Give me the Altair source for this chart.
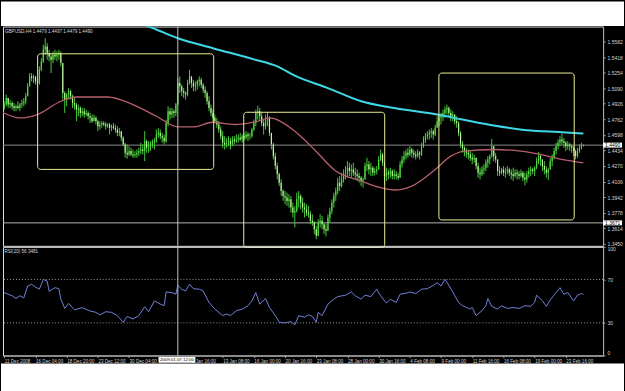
import altair as alt
import pandas as pd

# ---------------- data ----------------
close = [
    1.4917, 1.4987, 1.4917, 1.4934, 1.4899, 1.4882, 1.4899, 1.4882, 1.4917, 1.4934,
    1.4952, 1.5004, 1.5109, 1.5214, 1.5197, 1.5214, 1.5162, 1.5144, 1.5284, 1.5372,
    1.5494, 1.5529, 1.5459, 1.5424, 1.5389, 1.5442, 1.5424, 1.5442, 1.5459, 1.5354,
    1.5039, 1.4969, 1.5022, 1.5057, 1.5004, 1.4934, 1.4917, 1.4864, 1.4882, 1.4829,
    1.4847, 1.4812, 1.4829, 1.4794, 1.4777, 1.4742, 1.4777, 1.4742, 1.4689, 1.4707,
    1.4724, 1.4707, 1.4689, 1.4707, 1.4672, 1.4689, 1.4672, 1.4654, 1.4619, 1.4637,
    1.4567, 1.4497, 1.4409, 1.4392, 1.4427, 1.4392, 1.4381, 1.4392, 1.4409, 1.4427,
    1.4444, 1.4427, 1.4532, 1.4462, 1.4479, 1.4497, 1.4514, 1.4532, 1.4602, 1.4619,
    1.4584, 1.4567, 1.4532, 1.4724, 1.4847, 1.4812, 1.4847, 1.4829, 1.4917, 1.5144,
    1.5109, 1.5057, 1.5039, 1.5022, 1.5144, 1.5214, 1.5144, 1.5109, 1.5127, 1.5162,
    1.5179, 1.5127, 1.5074, 1.5039, 1.4952, 1.4882, 1.4829, 1.4777, 1.4742, 1.4707,
    1.4654, 1.4584, 1.4514, 1.4497, 1.4514, 1.4532, 1.4497, 1.4549, 1.4532, 1.4549,
    1.4567, 1.4549, 1.4584, 1.4567, 1.4602, 1.4584, 1.4584, 1.4654, 1.4724, 1.4829,
    1.4847, 1.4794, 1.4724, 1.4689, 1.4759, 1.4777, 1.4619, 1.4497, 1.4374, 1.4269,
    1.4182, 1.4094, 1.4007, 1.3954, 1.3937, 1.3902, 1.3919, 1.3832, 1.3779, 1.3797,
    1.3919, 1.3954, 1.3884, 1.3832, 1.3814, 1.3779, 1.3762, 1.3692, 1.3674, 1.3604,
    1.3534, 1.3674, 1.3692, 1.3657, 1.3604, 1.3587, 1.3727, 1.3797, 1.3884, 1.3954,
    1.4007, 1.4094, 1.4059, 1.4129, 1.4182, 1.4199, 1.4252, 1.4217, 1.4234, 1.4199,
    1.4182, 1.4164, 1.4147, 1.4112, 1.4129, 1.4269, 1.4287, 1.4234, 1.4252, 1.4199,
    1.4217, 1.4234, 1.4339, 1.4392, 1.4304, 1.4164, 1.4199, 1.4182, 1.4217, 1.4164,
    1.4182, 1.4164, 1.4147, 1.4287, 1.4339, 1.4374, 1.4409, 1.4392, 1.4444, 1.4409,
    1.4392, 1.4374, 1.4409, 1.4392, 1.4479, 1.4549, 1.4584, 1.4602, 1.4619, 1.4637,
    1.4602, 1.4672, 1.4742, 1.4777, 1.4794, 1.4829, 1.4864, 1.4882, 1.4829, 1.4794,
    1.4812, 1.4742, 1.4724, 1.4619, 1.4497, 1.4462, 1.4427, 1.4409, 1.4392, 1.4357,
    1.4339, 1.4357, 1.4269, 1.4199, 1.4182, 1.4234, 1.4252, 1.4304, 1.4339, 1.4374,
    1.4479, 1.4374, 1.4339, 1.4217, 1.4199, 1.4234, 1.4199, 1.4217, 1.4234, 1.4199,
    1.4182, 1.4164, 1.4199, 1.4182, 1.4164, 1.4199, 1.4147, 1.4129, 1.4182, 1.4217,
    1.4234, 1.4217, 1.4252, 1.4322, 1.4374, 1.4339, 1.4269, 1.4234, 1.4199, 1.4234,
    1.4322, 1.4357, 1.4427, 1.4479, 1.4514, 1.4549, 1.4532, 1.4514, 1.4479, 1.4497,
    1.4479, 1.4462, 1.4427, 1.4374, 1.4427, 1.4462, 1.4479, 1.4490,
]
high = [
    1.4952, 1.5022, 1.4987, 1.4969, 1.4952, 1.4934, 1.4917, 1.4952, 1.4934, 1.4969,
    1.4987, 1.5039, 1.5144, 1.5249, 1.5249, 1.5232, 1.5214, 1.5197, 1.5319, 1.5407,
    1.5547, 1.5617, 1.5564, 1.5494, 1.5459, 1.5477, 1.5494, 1.5477, 1.5494, 1.5477,
    1.5354, 1.5057, 1.5039, 1.5092, 1.5074, 1.5022, 1.4987, 1.4934, 1.4917, 1.4899,
    1.4882, 1.4882, 1.4864, 1.4847, 1.4829, 1.4812, 1.4812, 1.4794, 1.4759, 1.4742,
    1.4742, 1.4742, 1.4731, 1.4724, 1.4724, 1.4707, 1.4724, 1.4707, 1.4689, 1.4672,
    1.4637, 1.4584, 1.4514, 1.4497, 1.4479, 1.4462, 1.4444, 1.4427, 1.4444, 1.4462,
    1.4514, 1.4497, 1.4637, 1.4549, 1.4532, 1.4532, 1.4549, 1.4567, 1.4654, 1.4672,
    1.4654, 1.4619, 1.4602, 1.4759, 1.4899, 1.4882, 1.4882, 1.4864, 1.4934, 1.5197,
    1.5214, 1.5127, 1.5092, 1.5057, 1.5179, 1.5284, 1.5214, 1.5179, 1.5162, 1.5179,
    1.5214, 1.5197, 1.5144, 1.5109, 1.5057, 1.5004, 1.4917, 1.4864, 1.4812, 1.4777,
    1.4742, 1.4689, 1.4637, 1.4584, 1.4567, 1.4584, 1.4567, 1.4584, 1.4584, 1.4602,
    1.4602, 1.4619, 1.4602, 1.4619, 1.4637, 1.4626, 1.4619, 1.4672, 1.4759, 1.4864,
    1.4906, 1.4882, 1.4829, 1.4759, 1.4812, 1.4836, 1.4794, 1.4619, 1.4514, 1.4409,
    1.4304, 1.4199, 1.4129, 1.4024, 1.4007, 1.3989, 1.3972, 1.3954, 1.3884, 1.3849,
    1.3989, 1.4007, 1.3972, 1.3937, 1.3884, 1.3867, 1.3849, 1.3797, 1.3762, 1.3692,
    1.3639, 1.3709, 1.3762, 1.3744, 1.3674, 1.3657, 1.3762, 1.3832, 1.3919, 1.3989,
    1.4042, 1.4147, 1.4164, 1.4199, 1.4234, 1.4269, 1.4322, 1.4304, 1.4287, 1.4304,
    1.4252, 1.4234, 1.4199, 1.4164, 1.4147, 1.4304, 1.4357, 1.4322, 1.4304, 1.4269,
    1.4252, 1.4269, 1.4374, 1.4444, 1.4409, 1.4322, 1.4252, 1.4234, 1.4252, 1.4234,
    1.4234, 1.4217, 1.4199, 1.4322, 1.4374, 1.4427, 1.4444, 1.4462, 1.4479, 1.4462,
    1.4444, 1.4427, 1.4444, 1.4427, 1.4514, 1.4584, 1.4619, 1.4637, 1.4654, 1.4672,
    1.4654, 1.4707, 1.4794, 1.4812, 1.4829, 1.4864, 1.4899, 1.4917, 1.4899, 1.4864,
    1.4847, 1.4812, 1.4794, 1.4742, 1.4637, 1.4532, 1.4479, 1.4462, 1.4444, 1.4427,
    1.4409, 1.4392, 1.4357, 1.4304, 1.4252, 1.4269, 1.4287, 1.4339, 1.4374, 1.4392,
    1.4556, 1.4444, 1.4409, 1.4252, 1.4269, 1.4252, 1.4269, 1.4252, 1.4269, 1.4252,
    1.4234, 1.4252, 1.4234, 1.4234, 1.4217, 1.4234, 1.4217, 1.4199, 1.4217, 1.4252,
    1.4269, 1.4252, 1.4269, 1.4357, 1.4416, 1.4392, 1.4339, 1.4322, 1.4269, 1.4252,
    1.4357, 1.4392, 1.4462, 1.4514, 1.4549, 1.4584, 1.4612, 1.4567, 1.4532, 1.4532,
    1.4514, 1.4497, 1.4479, 1.4444, 1.4462, 1.4497, 1.4514, 1.4497,
]
low = [
    1.4864, 1.4899, 1.4882, 1.4882, 1.4864, 1.4847, 1.4847, 1.4864, 1.4847, 1.4882,
    1.4899, 1.4917, 1.5004, 1.5109, 1.5162, 1.5144, 1.5127, 1.5092, 1.5127, 1.5267,
    1.5354, 1.5442, 1.5389, 1.5372, 1.5249, 1.5354, 1.5389, 1.5372, 1.5389, 1.5319,
    1.4969, 1.4829, 1.4899, 1.4987, 1.4969, 1.4882, 1.4864, 1.4742, 1.4794, 1.4777,
    1.4794, 1.4777, 1.4794, 1.4759, 1.4724, 1.4724, 1.4742, 1.4707, 1.4637, 1.4654,
    1.4672, 1.4689, 1.4654, 1.4672, 1.4602, 1.4637, 1.4654, 1.4619, 1.4584, 1.4584,
    1.4532, 1.4479, 1.4357, 1.4346, 1.4374, 1.4374, 1.4357, 1.4357, 1.4357, 1.4374,
    1.4392, 1.4392, 1.4322, 1.4409, 1.4409, 1.4427, 1.4462, 1.4444, 1.4514, 1.4567,
    1.4549, 1.4514, 1.4497, 1.4514, 1.4689, 1.4759, 1.4777, 1.4777, 1.4794, 1.4934,
    1.5039, 1.5004, 1.4987, 1.4969, 1.5004, 1.5127, 1.5092, 1.5057, 1.5057, 1.5074,
    1.5109, 1.5092, 1.5039, 1.4987, 1.4917, 1.4847, 1.4794, 1.4742, 1.4724, 1.4672,
    1.4619, 1.4549, 1.4462, 1.4444, 1.4462, 1.4479, 1.4444, 1.4479, 1.4497, 1.4514,
    1.4514, 1.4532, 1.4514, 1.4532, 1.4549, 1.4532, 1.4549, 1.4567, 1.4637, 1.4689,
    1.4759, 1.4742, 1.4689, 1.4602, 1.4654, 1.4689, 1.4584, 1.4444, 1.4339, 1.4234,
    1.4129, 1.4059, 1.3954, 1.3902, 1.3867, 1.3849, 1.3832, 1.3779, 1.3727, 1.3622,
    1.3779, 1.3832, 1.3814, 1.3779, 1.3727, 1.3744, 1.3727, 1.3657, 1.3639, 1.3552,
    1.3499, 1.3534, 1.3622, 1.3604, 1.3552, 1.3527, 1.3587, 1.3674, 1.3762, 1.3832,
    1.3902, 1.3972, 1.4007, 1.4042, 1.4094, 1.4129, 1.4147, 1.4164, 1.4147, 1.4164,
    1.4129, 1.4112, 1.4094, 1.4059, 1.4042, 1.4129, 1.4217, 1.4182, 1.4164, 1.4164,
    1.4171, 1.4182, 1.4234, 1.4322, 1.4269, 1.4077, 1.4112, 1.4129, 1.4147, 1.4129,
    1.4129, 1.4129, 1.4122, 1.4147, 1.4252, 1.4304, 1.4339, 1.4357, 1.4374, 1.4357,
    1.4357, 1.4339, 1.4357, 1.4339, 1.4374, 1.4462, 1.4514, 1.4549, 1.4549, 1.4567,
    1.4549, 1.4584, 1.4672, 1.4689, 1.4707, 1.4742, 1.4777, 1.4812, 1.4794, 1.4742,
    1.4742, 1.4707, 1.4672, 1.4584, 1.4462, 1.4409, 1.4374, 1.4357, 1.4339, 1.4322,
    1.4287, 1.4304, 1.4234, 1.4147, 1.4129, 1.4164, 1.4182, 1.4217, 1.4252, 1.4287,
    1.4357, 1.4322, 1.4304, 1.4164, 1.4164, 1.4182, 1.4164, 1.4147, 1.4182, 1.4164,
    1.4129, 1.4112, 1.4147, 1.4129, 1.4129, 1.4147, 1.4112, 1.4066, 1.4094, 1.4147,
    1.4164, 1.4182, 1.4164, 1.4234, 1.4287, 1.4269, 1.4217, 1.4182, 1.4147, 1.4122,
    1.4234, 1.4269, 1.4339, 1.4392, 1.4444, 1.4479, 1.4497, 1.4462, 1.4427, 1.4444,
    1.4427, 1.4409, 1.4374, 1.4339, 1.4357, 1.4409, 1.4444, 1.4479,
]
first_open = 1.4882

# moving averages (bar index, value)
ma_slow_bar = [-1, 8, 17, 29, 37, 53, 66, 78, 89, 97, 107, 118, 130, 136, 147,
               152, 159, 170, 183, 193, 200, 209, 221, 229, 236, 251, 265, 275, 286, 297]
ma_slow_val = [1.4836, 1.4776, 1.4812, 1.4952, 1.4997, 1.4997, 1.4917, 1.4794, 1.4682, 1.4682,
               1.4731, 1.4707, 1.4742, 1.4776, 1.4668, 1.4584, 1.4444, 1.4217, 1.4112, 1.4041,
               1.4017, 1.4059, 1.4234, 1.4374, 1.4427, 1.4444, 1.4427, 1.4392, 1.4339, 1.4304]
ma_long_bar = [64, 74, 89, 107, 128, 140, 149, 166, 183, 200, 222, 235, 251, 268, 286, 297]
ma_long_val = [1.5802, 1.5739, 1.5616, 1.5511, 1.5393, 1.5319, 1.5221, 1.5091, 1.4952, 1.4881,
               1.4812, 1.4759, 1.4696, 1.4647, 1.4626, 1.4612]

# RSI points (bar index, value)
rsi_points = [
    (0, 57.9), (2, 56.4), (4, 55.0), (6, 52.4), (8, 55.0), (10, 53.0), (12, 64.0), (14, 65.5),
    (16, 63.0), (18, 61.0), (20, 70.0), (22, 68.5), (23, 59.0), (26, 62.4), (28, 61.5), (29, 52.0),
    (31, 43.3), (33, 48.0), (36, 42.0), (40, 44.0), (44, 41.0), (47, 39.7), (49, 37.3), (52, 40.3),
    (55, 39.7), (58, 36.7), (61, 30.6), (63, 36.0), (66, 33.6), (69, 36.7), (72, 44.8), (74, 40.3),
    (77, 50.3), (80, 47.3), (82, 45.8), (83, 58.5), (86, 57.9), (88, 56.4), (89, 64.5), (91, 61.0),
    (93, 59.4), (95, 65.5), (97, 61.5), (100, 61.0), (102, 59.4), (105, 48.8), (108, 42.7),
    (112, 36.7), (114, 38.2), (116, 36.7), (119, 41.2), (122, 42.7), (125, 45.8), (127, 50.3),
    (129, 57.9), (131, 47.3), (134, 52.4), (136, 44.2), (139, 36.7), (141, 30.6), (144, 30.0),
    (147, 31.2), (149, 28.2), (151, 36.7), (154, 35.2), (156, 37.3), (158, 36.0), (160, 30.6),
    (161, 39.7), (163, 36.7), (166, 47.3), (169, 51.8), (171, 54.2), (175, 55.5), (178, 58.5),
    (180, 55.0), (183, 51.8), (185, 55.5), (188, 54.2), (191, 61.0), (193, 55.0), (196, 48.2),
    (198, 51.8), (201, 48.8), (203, 56.4), (206, 57.3), (208, 58.5), (211, 57.0), (214, 61.0),
    (217, 61.5), (220, 64.5), (222, 67.0), (224, 64.0), (226, 70.0), (227, 67.6), (230, 58.5),
    (233, 48.8), (235, 45.8), (237, 44.2), (239, 42.7), (240, 44.2), (242, 36.7), (245, 41.2),
    (247, 45.8), (248, 52.4), (250, 45.2), (253, 42.7), (255, 45.8), (258, 43.3), (261, 44.2),
    (264, 43.3), (267, 45.8), (270, 45.2), (272, 48.8), (273, 55.5), (276, 50.3), (278, 45.2),
    (280, 51.2), (283, 57.9), (285, 62.4), (287, 56.4), (289, 57.9), (292, 50.3), (294, 55.5),
    (296, 57.0), (297, 56.3),
]

# drawn rectangles (bar index from/to, price top/bottom)
box_x0 = [17.1, 122.8, 222.9]
box_x1 = [107.4, 195.1, 292.3]
box_top = [1.5452, 1.4836, 1.5249]
box_bottom = [1.4234, 1.3413, 1.3702]

# horizontal lines
line_price = [1.4490, 1.3671]
line_label = ["1.4490", "1.3671"]

price_ticks = [1.3450, 1.3614, 1.3778, 1.3942, 1.4106, 1.4270, 1.4434,
               1.4598, 1.4762, 1.4926, 1.5090, 1.5254, 1.5418, 1.5582]
rsi_ticks = [0, 30, 70, 100]
rsi_levels = [30, 70]
# the label at bar 80 lies under the cursor's time box in the reference
time_labels = ["11 Dec 2008", "16 Dec 04:00", "18 Dec 20:00", "23 Dec 12:00", "30 Dec 04:00",
               "", "8 Jan 16:00", "13 Jan 08:00", "16 Jan 00:00", "20 Jan 16:00",
               "23 Jan 08:00", "28 Jan 00:00", "30 Jan 16:00", "4 Feb 08:00", "9 Feb 00:00",
               "11 Feb 16:00", "16 Feb 08:00", "19 Feb 00:00", "23 Feb 16:00"]
cursor_bar = 89
cursor_box = (79.1, 98.0)
cursor_label = "2009.01.07 12:00"
title_text = "GBPUSD,H4 1.4479 1.4497 1.4479 1.4490"
rsi_text = "RSI(20) 56.3481"

# ---------------- tables ----------------
N = len(close)
opn = [first_open] + close[:-1]
hi = [max(h, o, c) for h, o, c in zip(high, opn, close)]
lo = [min(l, o, c) for l, o, c in zip(low, opn, close)]
candles = pd.DataFrame({"bar": list(range(N)), "open": opn, "high": hi, "low": lo, "close": close})
bull = candles[candles["close"] >= candles["open"]]
bear = candles[candles["close"] < candles["open"]]
ma_slow = pd.DataFrame({"bar": ma_slow_bar, "v": ma_slow_val})
ma_long = pd.DataFrame({"bar": ma_long_bar, "v": ma_long_val})
rsi = pd.DataFrame(rsi_points, columns=["bar", "rsi"])
boxes = pd.DataFrame({"x0": box_x0, "x1": box_x1, "top": box_top, "bottom": box_bottom})
hl = pd.DataFrame({"price": line_price, "label": line_label})
hl["t"] = hl["price"] + 0.0026
hl["b"] = hl["price"] - 0.0026
cursor = pd.DataFrame({"bar": [cursor_bar]})
cbox = pd.DataFrame({"x0": [cursor_box[0]], "x1": [cursor_box[1]],
                     "xm": [(cursor_box[0] + cursor_box[1]) / 2], "t": [cursor_label]})
one = pd.DataFrame({"k": [0]})
lev = pd.DataFrame({"v": rsi_levels})

# ---------------- scales / axes ----------------
W, H1, H2 = 602, 220, 109
FONT = "Liberation Sans"
LBL = "#d2d2d2"
AX = "#a8a8a8"
xs = alt.Scale(domain=[-0.665, 307.1], nice=False, zero=False)
ys = alt.Scale(domain=[1.3429, 1.5739], nice=False, zero=False)
rs = alt.Scale(domain=[0, 100], nice=False, zero=False)

price_axis = alt.Axis(orient="right", values=price_ticks, format=".4f", tickSize=2,
                      labelPadding=2, labelFontSize=5, labelFont=FONT, labelColor=LBL,
                      domainColor=AX, tickColor=AX, grid=False, title=None,
                      labelOverlap=False, labelFlush=False)
rsi_axis = alt.Axis(orient="right", values=rsi_ticks, tickSize=2, labelPadding=2,
                    labelFontSize=5, labelFont=FONT, labelColor=LBL, domainColor=AX,
                    tickColor=AX, grid=False, title=None, labelFlush=True, labelOverlap=False)
expr = "[" + ",".join("'%s'" % s for s in time_labels) + "][round(datum.value / 16)]"
time_axis = alt.Axis(values=[16 * k for k in range(len(time_labels))], labelExpr=expr,
                     labelAlign="left", labelBaseline="top", labelPadding=1, tickSize=2,
                     labelFontSize=4.6, labelFont=FONT, labelColor=LBL, domainColor=AX,
                     tickColor=AX, grid=False, title=None, labelOverlap=False,
                     labelFlush=False, labelBound=False)


def MX(f):
    return alt.X(f, type="quantitative", scale=xs, axis=None)


def MY(f):
    return alt.Y(f, type="quantitative", scale=ys, axis=price_axis)


def RX(f):
    return alt.X(f, type="quantitative", scale=xs, axis=time_axis)


def RY(f):
    return alt.Y(f, type="quantitative", scale=rs, axis=rsi_axis)


# ---------------- main panel ----------------
top_strip = alt.Chart(one).mark_rect(color="white").encode(
    x=alt.value(-2), x2=alt.value(623), y=alt.value(-25), y2=alt.value(-0.5))
hlines = alt.Chart(hl).mark_rule(strokeWidth=1).encode(
    y=MY("price"),
    color=alt.Color("label:N", scale=alt.Scale(domain=line_label, range=["#8a8a8a", "#b4b4b4"]),
                    legend=None))
wick = alt.Chart(candles).mark_rule(color="#45c639", strokeWidth=1).encode(
    x=MX("bar"), y=MY("low"), y2=alt.Y2("high"))
bull_body = alt.Chart(bull).mark_rule(color="#4fdc3c", strokeWidth=1.2).encode(
    x=MX("bar"), y=MY("open"), y2=alt.Y2("close"))
bear_body = alt.Chart(bear).mark_rule(color="#c4f0a0", strokeWidth=1.2).encode(
    x=MX("bar"), y=MY("open"), y2=alt.Y2("close"))
slow_line = alt.Chart(ma_slow).mark_line(color="#b65f6c", strokeWidth=1.3, clip=True,
                                         interpolate="monotone").encode(x=MX("bar"), y=MY("v"))
long_line = alt.Chart(ma_long).mark_line(color="#3fd8e6", strokeWidth=2, clip=True,
                                         interpolate="monotone").encode(x=MX("bar"), y=MY("v"))
rects = alt.Chart(boxes).mark_rect(fillOpacity=0, stroke="#ecec96", strokeWidth=1,
                                   cornerRadius=3).encode(
    x=MX("x0"), x2=alt.X2("x1"), y=MY("top"), y2=alt.Y2("bottom"))
cross1 = alt.Chart(cursor).mark_rule(color="#c4c4c4", strokeWidth=1).encode(x=MX("bar"))
pbox = alt.Chart(hl).mark_rect(color="white").encode(
    x=alt.value(602), x2=alt.value(621), y=MY("t"), y2=alt.Y2("b"))
ptext = alt.Chart(hl).mark_text(align="left", baseline="middle", fontSize=5, font=FONT,
                                color="black").encode(
    x=alt.value(604), y=MY("price"), text="label:N")
title = alt.Chart(one).mark_text(align="left", baseline="top", fontSize=4.6, font=FONT,
                                 color="#d8d8d8").encode(
    x=alt.value(2), y=alt.value(2.5), text=alt.value(title_text))

main = alt.layer(top_strip, hlines, wick, bull_body, bear_body, slow_line, long_line,
                 rects, cross1, pbox, ptext, title).properties(width=W, height=H1)

# ---------------- RSI panel ----------------
levels = alt.Chart(lev).mark_rule(color="#9a9a9a", strokeWidth=1, strokeDash=[1, 2]).encode(
    y=RY("v"))
rsi_line = alt.Chart(rsi).mark_line(color="#6f82d6", strokeWidth=1).encode(
    x=RX("bar"), y=RY("rsi"))
cross2 = alt.Chart(cursor).mark_rule(color="#c4c4c4", strokeWidth=1).encode(x=RX("bar"))
tbox = alt.Chart(cbox).mark_rect(color="white").encode(
    x=RX("x0"), x2=alt.X2("x1"), y=alt.value(110.6), y2=alt.value(116.4))
ttext = alt.Chart(cbox).mark_text(align="center", baseline="middle", fontSize=4.4, font=FONT,
                                  color="black").encode(
    x=RX("xm"), y=alt.value(113.6), text="t:N")
rsi_lbl = alt.Chart(one).mark_text(align="left", baseline="top", fontSize=4.6, font=FONT,
                                   color="#d8d8d8").encode(
    x=alt.value(1.5), y=alt.value(2.5), text=alt.value(rsi_text))
bottom_strip = alt.Chart(one).mark_rect(color="white").encode(
    x=alt.value(-2), x2=alt.value(623), y=alt.value(117), y2=alt.value(145))

rsi_panel = alt.layer(levels, rsi_line, cross2, tbox, ttext, rsi_lbl,
                      bottom_strip).properties(width=W, height=H2)

chart = alt.vconcat(main, rsi_panel, spacing=1, bounds="flush").resolve_scale(
    x="independent", y="independent"
).properties(
    padding={"left": 0, "top": 0, "right": 0, "bottom": 0},
    background="black",
).configure_view(stroke="#8c8c8c", strokeWidth=1).configure(font=FONT)

chart.save("out.html", embed_options={"renderer": "svg", "actions": False})
